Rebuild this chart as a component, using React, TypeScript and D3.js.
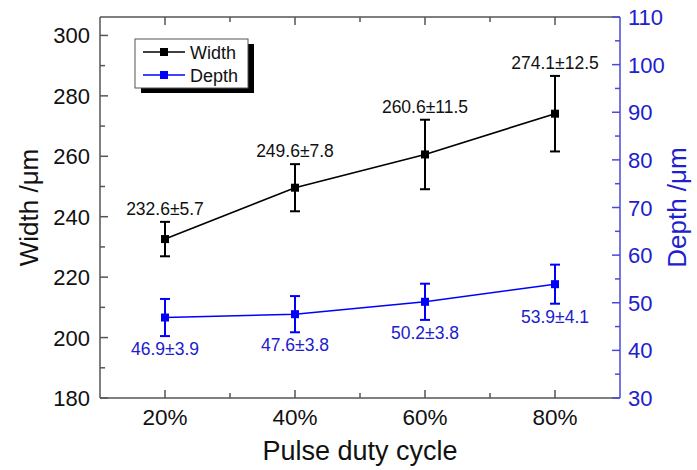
import React from "react";
import * as d3 from "d3";

const categories = [20, 40, 60, 80];
const tickLabels = ["20%", "40%", "60%", "80%"];
const widthMean = [232.6, 249.6, 260.6, 274.1];
const widthErr = [5.7, 7.8, 11.5, 12.5];
const depthMean = [46.9, 47.6, 50.2, 53.9];
const depthErr = [3.9, 3.8, 3.8, 4.1];
const leftTicks = [180, 200, 220, 240, 260, 280, 300];
const leftMinor = [190, 210, 230, 250, 270, 290];
const rightTicks = [30, 40, 50, 60, 70, 80, 90, 100, 110];
const rightMinor = [35, 45, 55, 65, 75, 85, 95, 105];
const xMinor = [30, 50, 70];

const W = 697, H = 470;
const L = 100, R = 620, T = 17, B = 398;
const FONT = "'Liberation Sans', Arial, sans-serif";
const GRAY = "#555";
const AXBLUE = "#4a4ad8";
const TXBLUE = "#2020cc";
const DBLUE = "#0000ff";

export default function App() {
  const x = d3.scaleLinear().domain([10, 90]).range([L, R]);
  const yL = d3.scaleLinear().domain([180, 306.1]).range([B, T]);
  const yR = d3.scaleLinear().domain([30, 110]).range([B, T]);
  const line = (ys: number[], sc: d3.ScaleLinear<number, number>) =>
    d3.line<number>().x((_, i) => x(categories[i])).y((d) => sc(d))(ys) || "";

  const series = [
    { mean: widthMean, err: widthErr, sc: yL, color: "#000", txt: "#111", above: true },
    { mean: depthMean, err: depthErr, sc: yR, color: DBLUE, txt: TXBLUE, above: false },
  ];

  return (
    <svg width={W} height={H} style={{ position: "absolute", left: 0, top: 0, background: "#fff" }} fontFamily={FONT}>
      <rect x={0} y={0} width={W} height={H} fill="#fff" />
      {/* frame */}
      <line x1={L} x2={R} y1={T} y2={T} stroke={GRAY} strokeWidth={1.5} />
      <line x1={L} x2={R} y1={B} y2={B} stroke={GRAY} strokeWidth={1.5} />
      <line x1={L} x2={L} y1={T} y2={B} stroke={GRAY} strokeWidth={1.5} />
      <line x1={R} x2={R} y1={T} y2={B} stroke={AXBLUE} strokeWidth={1.5} />
      {/* x ticks */}
      {categories.map((c, i) => (
        <g key={"xt" + i}>
          <line x1={x(c)} x2={x(c)} y1={B} y2={B - 8} stroke={GRAY} strokeWidth={1.5} />
          <line x1={x(c)} x2={x(c)} y1={T} y2={T + 8} stroke={GRAY} strokeWidth={1.5} />
          <text x={x(c)} y={B + 27} fontSize={22.5} textAnchor="middle" fill="#111">{tickLabels[i]}</text>
        </g>
      ))}
      {xMinor.map((c, i) => (
        <g key={"xm" + i}>
          <line x1={x(c)} x2={x(c)} y1={B} y2={B - 5} stroke={GRAY} strokeWidth={1.5} />
          <line x1={x(c)} x2={x(c)} y1={T} y2={T + 5} stroke={GRAY} strokeWidth={1.5} />
        </g>
      ))}
      {/* left ticks */}
      {leftTicks.map((v) => (
        <g key={"lt" + v}>
          <line x1={L} x2={L + 8} y1={yL(v)} y2={yL(v)} stroke={GRAY} strokeWidth={1.5} />
          <text x={L - 10} y={yL(v) + 8} fontSize={22} textAnchor="end" fill="#111">{v}</text>
        </g>
      ))}
      {leftMinor.map((v) => (
        <line key={"lm" + v} x1={L} x2={L + 5} y1={yL(v)} y2={yL(v)} stroke={GRAY} strokeWidth={1.5} />
      ))}
      {/* right ticks */}
      {rightTicks.map((v) => (
        <g key={"rt" + v}>
          <line x1={R} x2={R - 8} y1={yR(v)} y2={yR(v)} stroke={AXBLUE} strokeWidth={1.5} />
          <text x={R + 8} y={yR(v) + 8} fontSize={22} textAnchor="start" fill={TXBLUE}>{v}</text>
        </g>
      ))}
      {rightMinor.map((v) => (
        <line key={"rm" + v} x1={R} x2={R - 5} y1={yR(v)} y2={yR(v)} stroke={AXBLUE} strokeWidth={1.5} />
      ))}
      {/* axis titles */}
      <text transform={`translate(38,${(T + B) / 2}) rotate(-90)`} fontSize={26} textAnchor="middle" fill="#111">Width /μm</text>
      <text transform={`translate(686,${(T + B) / 2}) rotate(-90)`} fontSize={26} textAnchor="middle" fill={TXBLUE}>Depth /μm</text>
      <text x={(L + R) / 2} y={460} fontSize={27} textAnchor="middle" fill="#111">Pulse duty cycle</text>
      {/* series */}
      {series.map((s, si) => (
        <g key={"s" + si}>
          <path d={line(s.mean, s.sc)} fill="none" stroke={s.color} strokeWidth={1.6} />
          {s.mean.map((m, i) => {
            const cx = x(categories[i]);
            const yt = s.sc(m + s.err[i]);
            const yb = s.sc(m - s.err[i]);
            const label = `${m.toFixed(1)}±${s.err[i].toFixed(1)}`;
            return (
              <g key={"p" + i}>
                <line x1={cx} x2={cx} y1={yt} y2={yb} stroke={s.color} strokeWidth={2} />
                <line x1={cx - 5} x2={cx + 5} y1={yt} y2={yt} stroke={s.color} strokeWidth={2} />
                <line x1={cx - 5} x2={cx + 5} y1={yb} y2={yb} stroke={s.color} strokeWidth={2} />
                <rect x={cx - 4} y={s.sc(m) - 4} width={8} height={8} fill={s.color} />
                <text x={cx} y={s.above ? yt - 7 : yb + 19} fontSize={17.5} textAnchor="middle" fill={s.txt}>{label}</text>
              </g>
            );
          })}
        </g>
      ))}
      {/* legend */}
      <rect x={141} y={44} width={113} height={49} fill="#000" />
      <rect x={135} y={39} width={113} height={49} fill="#fff" stroke="#555" strokeWidth={1} />
      <line x1={143} x2={185} y1={52} y2={52} stroke="#000" strokeWidth={1.6} />
      <rect x={160} y={48} width={8} height={8} fill="#000" />
      <text x={190} y={58.5} fontSize={18} fill="#111">Width</text>
      <line x1={143} x2={185} y1={75} y2={75} stroke={DBLUE} strokeWidth={1.6} />
      <rect x={160} y={71} width={8} height={8} fill={DBLUE} />
      <text x={190} y={81.5} fontSize={18} fill="#111">Depth</text>
    </svg>
  );
}
